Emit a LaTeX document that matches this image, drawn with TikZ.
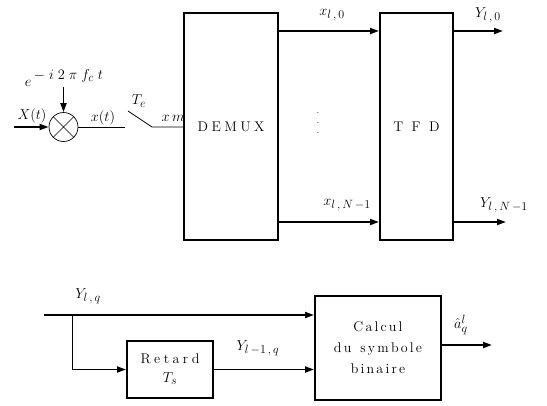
\documentclass[tikz,border=0pt]{standalone}
\usepackage{fontspec}
\usetikzlibrary{arrows.meta,calc}
\DeclareMathSizes{14}{14}{12.5}{10}
\makeatletter
\def\spaced#1#2{\def\sp@k{#1}\hspace*{#1}\spaced@i#2\relax}
\def\spaced@i#1{\ifx#1\relax\else#1\kern\sp@k\expandafter\spaced@i\fi}
\makeatother
\begin{document}
\begin{tikzpicture}[x=1pt,y=-1pt,
  box/.style={draw, line width=2pt, inner sep=0pt, align=center},
  arr/.style={line width=1.8pt, -{Triangle[length=9pt,width=6pt]}},
  thinl/.style={line width=0.7pt},
  lbl/.style={inner sep=0pt, font=\fontsize{14}{16}\selectfont},
  boxfont/.style={font=\fontsize{14}{21}\selectfont}]
\useasboundingbox (0,0) rectangle (547,405);
% top blocks
\node[box, boxfont, minimum width=94pt, minimum height=227pt] (demux) at (231,126.5) {\spaced{3.5pt}{DEMUX}};
\node[box, boxfont, minimum width=73pt, minimum height=227pt] (tfd) at (416.5,126.5) {\spaced{8.5pt}{TFD}};
\coordinate (r0) at (0,31);
\coordinate (rN) at (0,222);
\coordinate (o0) at (503,31);
\coordinate (oN) at (506,222);
\draw[arr] (demux.east |- r0) -- (tfd.west |- r0);
\draw[arr] (demux.east |- rN) -- (tfd.west |- rN);
\draw[arr] (tfd.east |- r0) -- (o0);
\draw[arr] (tfd.east |- rN) -- (oN);
\node[lbl] (lx0) at (332,15) {$x_{l\,,\,0}$};
\node[lbl] (lxN) at (347,205) {$x_{l\,,\,N\,-1}$};
\node[lbl] (ly0) at (488,15) {$Y_{l\,,\,0}$};
\node[lbl] (lyN) at (504,205) {$Y_{l\,,\,N\,-1}$};
\node[align=center, inner sep=0pt, font=\fontsize{10}{10}\selectfont, text=black!85] (dots) at (318,123) {.\\.\\.};
% multiplier and sampler
\node[draw, thinl, circle, minimum size=29pt, inner sep=0pt] (mul) at (63.5,127) {};
\draw[thinl] (mul.45) -- (mul.225) (mul.135) -- (mul.315);
\coordinate (xin) at (14,127);
\draw[arr] (xin) -- (mul.west);
\node[lbl, anchor=south] (exp) at (64,87) {$e$\,\raisebox{7pt}{$-\;i\;2\;\pi\; f_c\; t$}};
\draw[arr] (exp.south -| mul.north) -- (mul.north);
\coordinate (sw0) at (125,127);
\coordinate (swa) at (128,111);
\coordinate (swb) at (152,127);
\draw[thinl] (mul.east) -- (sw0);
\draw[thinl] (swa) -- (swb) -- (demux.west |- swb);
\node[lbl] (lX) at (32,116) {$X(t)$};
\node[lbl] (lx) at (103,118) {$x(t)$};
\node[lbl] (lTe) at (139,101) {$T_e$};
\node[lbl] (lxm) at (173,118) {$x\,m$};
% bottom part
\node[box, font=\fontsize{14}{19}\selectfont, minimum width=86pt, minimum height=57pt] (ret) at (170,369.5) {\spaced{3.5pt}{Retard}\\$T_s$};
\node[box, boxfont, minimum width=126pt, minimum height=104pt] (calc) at (378,348) {\spaced{2.2pt}{Calcul}\\\spaced{2.2pt}{du~symbole}\\\spaced{2.2pt}{binaire}};
\coordinate (yin) at (44,315);
\coordinate (br) at (72,315);
\coordinate (out) at (492,345);
\draw[arr] (yin) -- (calc.west |- yin);
\draw[thinl] (br) -- (br |- ret.west);
\draw[arr] (br |- ret.west) -- (ret.west);
\draw[arr] (ret.east) -- (calc.west |- ret.east);
\draw[arr] (calc.east |- out) -- (out);
\node[lbl] (lYq) at (88,296) {$Y_{l\,,\,q}$};
\node[lbl] (lYl) at (258,348) {$Y_{l\,-1\,,\,q}$};
\node[lbl] (la) at (461,325) {$\hat a_q^l$};
\end{tikzpicture}
\end{document}
